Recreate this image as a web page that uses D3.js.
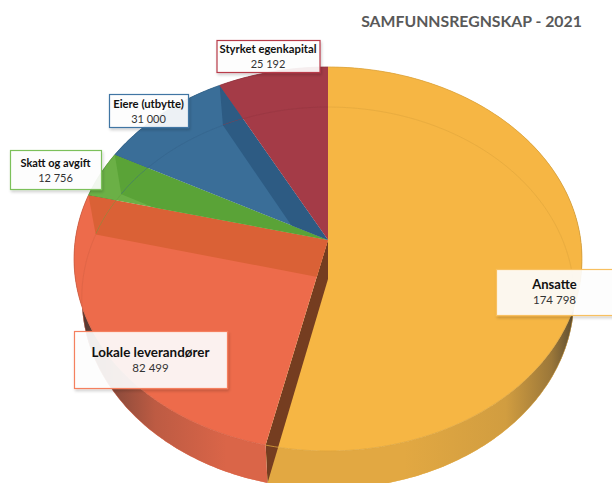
<!DOCTYPE html>
<html lang="en">
<head>
    <meta charset="UTF-8">
    <title>Samfunnsregnskap</title>
    <style>
        html, body { margin: 0; padding: 0; background: #fff; }
        svg { display: block; }
        text { font-family: Lato, "Open Sans", sans-serif; text-anchor: middle; }
    </style>
</head>
<body>
<div id="content"></div>

<script src="https://d3js.org/d3.v7.min.js"></script>
<script>

    // data
    var categories = ["Ansatte", "Lokale leverandører", "Skatt og avgift", "Eiere (utbytte)", "Styrket egenkapital"];
    var values = [174798, 82499, 12756, 31000, 25192];
    var chartTitle = "SAMFUNNSREGNSKAP - 2021";

    // styles, same order as categories
    var sliceColors = ["#f6b644", "#ed6b4b", "#6bb046", "#3a6e98", "#a43b47"];
    var faceColors = ["#753d20", "#da6136", "#5aa337", "#2d5b83", "#a43b47"];
    var borderColors = ["#f8c060", "#f5805f", "#7cc05a", "#3f75a3", "#b83a4a"];

    // label boxes [x, y, width, height, name size, value size]
    var labelBoxes = [
        [496, 269, 117, 46, 13, 11.5],
        [74, 331, 153, 57, 13.4, 11.5],
        [10, 150, 91, 39, 11, 11],
        [109, 94, 79, 33, 11.3, 11],
        [216.5, 40, 103, 32, 11.3, 11]
    ];

    var width = 612, height = 483;

    var svg = d3.select("#content").append("svg")
        .attr("width", width)
        .attr("height", height);

    var defs = svg.append("defs");

    var shadow = defs.append("filter").attr("id", "shadow")
        .attr("x", "-10%").attr("y", "-10%").attr("width", "125%").attr("height", "130%");
    shadow.append("feDropShadow")
        .attr("dx", 1).attr("dy", 2).attr("stdDeviation", 1.5)
        .attr("flood-color", "#000").attr("flood-opacity", 0.2);

    // the pie is a unit circle seen in perspective, top and bottom plane
    var topPlane = {x0: 328, y0: 240, rx: 252.7, ry: 190.1, k: 0.099};
    var bottomPlane = {x0: 328, y0: 279, rx: 245, ry: 189, k: 0.099};

    function project(plane, angle) {
        var u = Math.sin(angle), v = -Math.cos(angle);
        var w = 1 - plane.k * v;
        return [plane.x0 + plane.rx * u / w, plane.y0 + plane.ry * v / w];
    }

    function apex(plane) {
        return [plane.x0, plane.y0];
    }

    function arcPoints(plane, a0, a1) {
        var n = Math.max(2, Math.ceil((a1 - a0) * 60));
        return d3.range(n + 1).map(function (i) {
            return project(plane, a0 + (a1 - a0) * i / n);
        });
    }

    var line = d3.line();
    function closed(points) {
        return line(points) + "Z";
    }

    var slices = d3.pie().sort(null)(values);

    function topPath(d) {
        return closed([apex(topPlane)].concat(arcPoints(topPlane, d.startAngle, d.endAngle)));
    }

    function wallPath(d) {
        return closed(arcPoints(topPlane, d.startAngle, d.endAngle)
            .concat(arcPoints(bottomPlane, d.startAngle, d.endAngle).reverse()));
    }

    function facePath(d) {
        return closed([apex(topPlane), project(topPlane, d.endAngle), project(bottomPlane, d.endAngle), apex(bottomPlane)]);
    }

    // wall shading runs dark to light to dark over the pie width
    slices.forEach(function (d, i) {
        var mix = d3.interpolateRgb(sliceColors[i], "#2b2b2b");
        var grad = defs.append("linearGradient").attr("id", "wall" + i)
            .attr("gradientUnits", "userSpaceOnUse")
            .attr("x1", 74).attr("x2", 582).attr("y1", 0).attr("y2", 0);
        [[0, 0.85], [0.03, 0.75], [0.08, 0.5], [0.16, 0.25], [0.3, 0.1], [0.65, 0.1], [0.85, 0.18], [0.94, 0.45], [0.99, 0.8]].forEach(function (s) {
            grad.append("stop").attr("offset", s[0]).attr("stop-color", mix(s[1]));
        });
        var clip = defs.append("clipPath").attr("id", "clip" + i);
        clip.append("path").attr("d", topPath(d));
        clip.append("path").attr("d", wallPath(d));
    });

    //outer walls
    svg.append("g").selectAll("path").data(slices).join("path")
        .attr("d", wallPath)
        .attr("fill", function (d, i) { return "url(#wall" + i + ")"; });

    //top surfaces
    svg.append("g").selectAll("path").data(slices).join("path")
        .attr("d", topPath)
        .attr("fill", function (d, i) { return sliceColors[i]; });

    //cut faces seen through the slices
    svg.append("g").selectAll("path").data(slices).join("path")
        .attr("d", facePath)
        .attr("clip-path", function (d, i) { return "url(#clip" + i + ")"; })
        .attr("fill", function (d, i) { return faceColors[i]; });

    //bottom rim seen through the top
    svg.append("g").selectAll("path").data(slices).join("path")
        .attr("d", function (d) { return line(arcPoints(bottomPlane, d.startAngle, d.endAngle)); })
        .attr("clip-path", function (d, i) { return "url(#clip" + i + ")"; })
        .attr("fill", "none")
        .attr("stroke", function (d, i) { return d3.color(sliceColors[i]).darker(0.2); })
        .attr("stroke-width", 0.8);

    //rim of the top surface
    svg.append("g").selectAll("path").data(slices).join("path")
        .attr("d", function (d) { return line(arcPoints(topPlane, d.startAngle, d.endAngle)); })
        .attr("fill", "none")
        .attr("stroke", function (d, i) { return d3.color(sliceColors[i]).darker(0.3); })
        .attr("stroke-width", 0.8);

    //title
    svg.append("text")
        .attr("x", 471.5)
        .attr("y", 26.5)
        .attr("font-size", 15.8)
        .attr("font-weight", 700)
        .attr("fill", "#595959")
        .text(chartTitle);

    //labels
    var fmt = d3.formatLocale({decimal: ",", thousands: " ", grouping: [3], currency: ["", ""]}).format(",d");

    var labels = svg.append("g").selectAll("g").data(slices).join("g")
        .attr("transform", function (d, i) { return "translate(" + labelBoxes[i][0] + "," + labelBoxes[i][1] + ")"; });

    labels.append("rect")
        .attr("x", 0.5).attr("y", 0.5)
        .attr("width", function (d, i) { return labelBoxes[i][2]; })
        .attr("height", function (d, i) { return labelBoxes[i][3]; })
        .attr("fill", "#fff")
        .attr("fill-opacity", 0.9)
        .attr("stroke", function (d, i) { return borderColors[i]; })
        .attr("stroke-width", 1.2)
        .attr("filter", "url(#shadow)");

    labels.append("text")
        .attr("x", function (d, i) { return labelBoxes[i][2] / 2; })
        .attr("y", function (d, i) { return labelBoxes[i][3] / 2 - 3; })
        .attr("font-size", function (d, i) { return labelBoxes[i][4]; })
        .attr("font-weight", 700)
        .attr("fill", "#111")
        .text(function (d, i) { return categories[i]; });

    labels.append("text")
        .attr("x", function (d, i) { return labelBoxes[i][2] / 2; })
        .attr("y", function (d, i) { return labelBoxes[i][3] / 2 + 12; })
        .attr("font-size", function (d, i) { return labelBoxes[i][5]; })
        .attr("fill", "#333")
        .text(function (d) { return fmt(d.value); });

</script>
</body>
</html>
